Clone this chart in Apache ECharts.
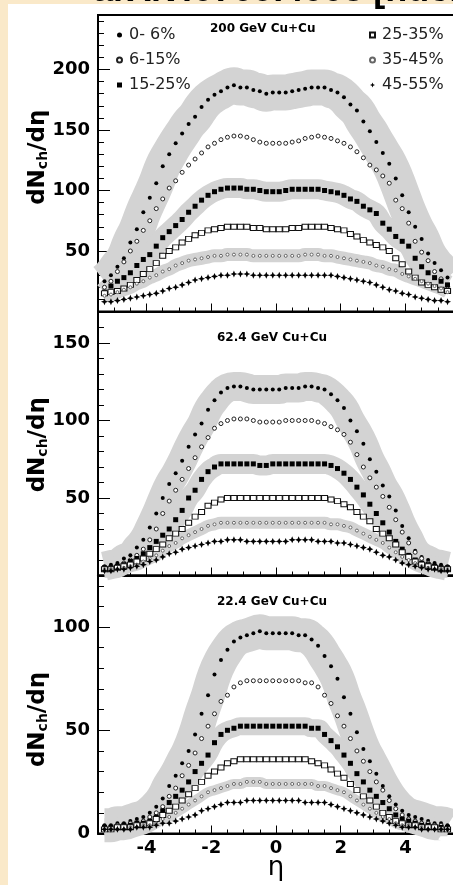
<!DOCTYPE html>
<html>
<head>
<meta charset="utf-8">
<script src="https://cdn.jsdelivr.net/npm/echarts@6/dist/echarts.min.js"></script>
<style>
  html, body { margin: 0; padding: 0; background: #ffffff; }
  #chart { width: 453px; height: 885px; }
</style>
</head>
<body>
<div id="chart"></div>
<script>
// Pseudorapidity bin centres shared by every measurement
const ETA = [-5.3, -5.1, -4.9, -4.7, -4.5, -4.3, -4.1, -3.9, -3.7, -3.5, -3.3, -3.1, -2.9, -2.7,
  -2.5, -2.3, -2.1, -1.9, -1.7, -1.5, -1.3, -1.1, -0.9, -0.7, -0.5, -0.3, -0.1,
  0.1, 0.3, 0.5, 0.7, 0.9, 1.1, 1.3, 1.5, 1.7, 1.9, 2.1, 2.3, 2.5, 2.7, 2.9, 3.1, 3.3,
  3.5, 3.7, 3.9, 4.1, 4.3, 4.5, 4.7, 4.9, 5.1, 5.3];

const CENTRALITY = ['0- 6%', '6-15%', '15-25%', '25-35%', '35-45%', '45-55%'];
const PANEL_TITLES = ['200 GeV Cu+Cu', '62.4 GeV Cu+Cu', '22.4 GeV Cu+Cu'];

// dNch/deta, 200 GeV Cu+Cu
const CU200_0_6 = [25, 30, 37, 44, 57, 68, 82, 94, 106, 120, 130, 139, 147, 155, 161, 169, 175, 179, 182, 185, 187, 185, 185, 183, 182, 180, 181,
  181, 181, 182, 183, 184, 185, 185, 185, 183, 181, 177, 171, 166, 157, 149, 140, 131, 122, 110, 96, 82, 70, 60, 48, 40, 34, 28];
const CU200_6_15 = [20, 25, 33, 41, 50, 58, 67, 75, 85, 93, 102, 108, 115, 121, 126, 131, 136, 139, 142, 144, 145, 145, 144, 142, 140, 139, 139,
  139, 139, 140, 141, 143, 144, 145, 144, 143, 141, 139, 136, 132, 127, 121, 117, 112, 106, 92, 85, 73, 58, 49, 42, 33, 27, 21];
const CU200_15_25 = [16, 21, 25, 28, 32, 38, 43, 47, 54, 61, 66, 71, 76, 82, 87, 92, 96, 99, 101, 102, 102, 102, 101, 101, 100, 99, 99,
  99, 100, 101, 101, 101, 101, 101, 100, 99, 98, 96, 93, 91, 87, 84, 81, 73, 68, 62, 58, 54, 44, 37, 32, 28, 25, 22];
const CU200_25_35 = [15, 16, 17, 19, 22, 26, 31, 35, 40, 46, 50, 53, 57, 60, 63, 65, 67, 68, 69, 70, 70, 70, 70, 69, 69, 68, 68,
  68, 68, 69, 69, 70, 70, 70, 70, 69, 68, 67, 64, 62, 59, 57, 55, 53, 50, 44, 39, 33, 28, 24, 22, 20, 18, 17];
const CU200_35_45 = [13, 14, 16, 18, 20, 23, 25, 28, 30, 33, 35, 38, 40, 42, 43, 44, 45, 46, 46, 47, 47, 47, 47, 46, 46, 46, 46,
  46, 46, 46, 46, 47, 47, 47, 46, 46, 45, 44, 43, 42, 41, 40, 38, 37, 35, 34, 31, 29, 27, 25, 23, 21, 19, 16];
const CU200_45_55 = [8, 8, 9, 10, 11, 12, 13, 14, 15, 17, 19, 20, 22, 24, 26, 27, 28, 29, 30, 30, 31, 31, 31, 30, 30, 30, 30,
  30, 30, 30, 30, 30, 30, 30, 30, 30, 29, 28, 27, 26, 25, 24, 22, 20, 18, 17, 15, 14, 12, 11, 10, 9, 9, 8];

// dNch/deta, 62.4 GeV Cu+Cu
const CU62_0_6 = [6, 7, 8, 11, 13, 18, 23, 31, 40, 50, 59, 66, 74, 83, 91, 98, 107, 113, 118, 121, 122, 122, 121, 120, 120, 120, 120,
  120, 121, 121, 121, 122, 122, 121, 120, 117, 113, 108, 100, 93, 85, 75, 67, 58, 51, 42, 32, 24, 16, 12, 10, 8, 7, 6];
const CU62_6_15 = [5, 5, 6, 8, 10, 13, 17, 23, 30, 40, 48, 55, 62, 69, 76, 83, 89, 95, 98, 100, 101, 101, 101, 100, 99, 99, 99,
  99, 100, 100, 100, 100, 100, 99, 98, 96, 94, 91, 86, 78, 70, 63, 57, 51, 44, 36, 28, 21, 15, 11, 8, 6, 5, 5];
const CU62_15_25 = [5, 5, 6, 7, 9, 11, 14, 18, 22, 26, 30, 36, 42, 50, 55, 62, 67, 70, 72, 72, 72, 72, 72, 72, 71, 71, 72,
  72, 72, 72, 72, 72, 72, 72, 72, 71, 69, 66, 62, 57, 52, 46, 40, 34, 28, 22, 17, 13, 10, 8, 7, 6, 5, 5];
const CU62_25_35 = [4, 4, 5, 6, 7, 9, 11, 14, 17, 20, 24, 27, 30, 34, 38, 41, 45, 47, 49, 50, 50, 50, 50, 50, 50, 50, 50,
  50, 50, 50, 50, 50, 50, 50, 50, 49, 48, 46, 44, 41, 38, 35, 30, 27, 24, 20, 15, 12, 9, 7, 6, 5, 4, 4];
const CU62_35_45 = [4, 4, 4, 5, 6, 7, 9, 11, 13, 16, 19, 21, 24, 26, 28, 30, 32, 33, 34, 34, 34, 34, 34, 34, 34, 34, 34,
  34, 34, 34, 34, 34, 34, 34, 34, 33, 33, 32, 31, 29, 27, 25, 23, 21, 18, 15, 12, 10, 8, 6, 5, 4, 4, 4];
const CU62_45_55 = [3, 3, 4, 4, 5, 6, 7, 9, 10, 12, 14, 15, 17, 18, 19, 20, 21, 22, 22, 23, 23, 23, 22, 22, 22, 22, 22,
  22, 22, 23, 23, 23, 23, 22, 22, 22, 21, 21, 20, 19, 18, 17, 15, 13, 12, 10, 8, 7, 6, 5, 4, 4, 3, 3];

// dNch/deta, 22.4 GeV Cu+Cu
const CU22_0_6 = [4, 4, 5, 5, 6, 7, 8, 10, 13, 17, 23, 28, 34, 40, 48, 58, 67, 77, 84, 89, 93, 95, 96, 97, 98, 97, 97,
  97, 97, 97, 96, 96, 94, 91, 86, 81, 75, 66, 58, 49, 41, 35, 29, 23, 18, 14, 11, 9, 8, 7, 6, 5, 5, 4];
const CU22_6_15 = [3, 3, 4, 4, 5, 5, 6, 8, 10, 13, 18, 22, 28, 33, 39, 46, 52, 58, 64, 67, 71, 73, 74, 74, 74, 74, 74,
  74, 74, 74, 74, 73, 73, 71, 67, 63, 57, 52, 46, 40, 35, 30, 25, 21, 16, 12, 9, 7, 6, 5, 5, 4, 4, 3];
const CU22_15_25 = [3, 3, 3, 4, 4, 5, 5, 6, 8, 11, 15, 18, 21, 25, 30, 34, 38, 44, 48, 50, 51, 52, 52, 52, 52, 52, 52,
  52, 52, 52, 52, 52, 51, 51, 48, 45, 42, 38, 34, 29, 25, 21, 18, 15, 12, 9, 7, 6, 5, 4, 4, 3, 3, 3];
const CU22_25_35 = [2, 2, 3, 3, 3, 4, 4, 5, 7, 9, 11, 13, 16, 19, 22, 25, 28, 30, 32, 34, 35, 36, 36, 36, 36, 36, 36,
  36, 36, 36, 36, 36, 35, 34, 33, 31, 29, 27, 24, 21, 18, 16, 13, 10, 8, 6, 5, 4, 4, 3, 3, 3, 2, 2];
const CU22_35_45 = [2, 2, 2, 2, 3, 3, 4, 4, 5, 7, 8, 10, 12, 14, 16, 18, 20, 21, 22, 23, 24, 24, 25, 25, 25, 24, 24,
  24, 24, 24, 24, 24, 24, 23, 23, 22, 21, 20, 18, 16, 14, 12, 10, 8, 7, 5, 4, 4, 3, 3, 2, 2, 2, 2];
const CU22_45_55 = [2, 2, 2, 2, 2, 3, 3, 3, 4, 5, 5, 6, 7, 8, 9, 11, 12, 13, 14, 15, 15, 15, 16, 16, 16, 16, 16,
  16, 16, 16, 16, 15, 15, 15, 15, 14, 13, 12, 11, 10, 9, 8, 7, 6, 5, 4, 3, 3, 3, 2, 2, 2, 2, 2];

// Axis ticks and labels
const X_LABELS = [-4, -2, 0, 2, 4];
const X_MINOR_TICKS = [-5, -4.5, -4, -3.5, -3, -2.5, -2, -1.5, -1, -0.5, 0, 0.5, 1, 1.5, 2, 2.5, 3, 3.5, 4, 4.5, 5];
const Y_MAX = [245, 170, 125];
const Y_LABELS = [[50, 100, 150, 200], [50, 100, 150], [0, 50, 100]];
const Y_MINOR_TICKS = [
  [10, 20, 30, 40, 50, 60, 70, 80, 90, 100, 110, 120, 130, 140, 150, 160, 170, 180, 190, 200, 210, 220, 230, 240],
  [10, 20, 30, 40, 50, 60, 70, 80, 90, 100, 110, 120, 130, 140, 150, 160],
  [10, 20, 30, 40, 50, 60, 70, 80, 90, 100, 110, 120]
];

const PANELS = [
  [CU200_0_6, CU200_6_15, CU200_15_25, CU200_25_35, CU200_35_45, CU200_45_55],
  [CU62_0_6, CU62_6_15, CU62_15_25, CU62_25_35, CU62_35_45, CU62_45_55],
  [CU22_0_6, CU22_6_15, CU22_15_25, CU22_25_35, CU22_35_45, CU22_45_55]
];

// ---- presentation ----
const GRID_BOXES = [
  { top: 15, height: 296.5 },
  { top: 312, height: 263.5 },
  { top: 575.5, height: 258 }
];
// horizontal padding [left, right] of the rotated y title, shifting it along each panel
const Y_TITLE_SHIFT = [[12, 0], [0, 2], [0, 30]];
const BAND_SERIES = [0, 2, 4];            // centralities drawn with a systematic band
const BAND_WIDTHS = [[36, 20, 13], [29, 20, 12], [34, 18, 10]];
const STAR = 'path://M3,0L3.9,2.1L6,3L3.9,3.9L3,6L2.1,3.9L0,3L2.1,2.1Z';
const MARKERS = [
  { symbol: 'circle', size: 4, fill: '#000', stroke: '#000', bw: 0 },
  { symbol: 'circle', size: 4, fill: '#fff', stroke: '#222', bw: 1 },
  { symbol: 'rect', size: 5, fill: '#000', stroke: '#000', bw: 0 },
  { symbol: 'rect', size: [6, 5], fill: '#fff', stroke: '#111', bw: 1 },
  { symbol: 'circle', size: 3, fill: '#fff', stroke: '#666', bw: 1 },
  { symbol: STAR, size: 7, fill: '#000', stroke: '#000', bw: 0 }
];
const NUM_FONT = { fontFamily: 'DejaVu Sans', fontWeight: 'bold', fontSize: 18, color: '#000' };

function pairs(values) {
  return ETA.map((e, i) => [e, values[i]]);
}

const grids = [], xAxes = [], yAxes = [], series = [], titles = [];

GRID_BOXES.forEach((box, p) => {
  grids.push({
    left: 98, width: 356, top: box.top, height: box.height,
    outerBoundsMode: 'none', containLabel: false,
    show: true, borderColor: '#000', borderWidth: 2, backgroundColor: 'transparent'
  });
  const last = p === GRID_BOXES.length - 1;
  // main x axis: long ticks, labels on the lowest panel
  xAxes.push({
    gridIndex: p, type: 'value', position: 'bottom', min: -5.5, max: 5.5,
    axisLine: { show: true, onZero: false, lineStyle: { color: '#000', width: 2 } },
    axisTick: { show: true, inside: true, length: 8, customValues: X_LABELS, lineStyle: { color: '#000', width: 1 } },
    axisLabel: { show: last, customValues: X_LABELS, margin: 6, ...NUM_FONT },
    splitLine: { show: false },
    name: last ? 'η' : '', nameLocation: 'middle', nameGap: 22, nameMoveOverlap: false,
    nameTextStyle: { fontFamily: 'DejaVu Sans', fontSize: 26, color: '#000' }
  });
  // short x ticks
  xAxes.push({
    gridIndex: p, type: 'value', position: 'bottom', min: -5.5, max: 5.5,
    axisLine: { show: false, onZero: false },
    axisTick: { show: true, inside: true, length: 4, customValues: X_MINOR_TICKS, lineStyle: { color: '#000', width: 1 } },
    axisLabel: { show: false }, splitLine: { show: false }
  });
  yAxes.push({
    gridIndex: p, type: 'value', position: 'left', min: 0, max: Y_MAX[p],
    axisLine: { show: true, onZero: false, lineStyle: { color: '#000', width: 2 } },
    axisTick: { show: true, inside: true, length: 12, customValues: Y_LABELS[p], lineStyle: { color: '#000', width: 1 } },
    axisLabel: { show: true, customValues: Y_LABELS[p], margin: 8, ...NUM_FONT },
    splitLine: { show: false },
    name: '{m|dN}{s|ch}{m|/dη}', nameLocation: 'middle', nameRotate: 90, nameGap: 48,
    nameMoveOverlap: false,
    nameTextStyle: {
      padding: [0, Y_TITLE_SHIFT[p][1], 0, Y_TITLE_SHIFT[p][0]],
      rich: {
        m: { fontFamily: 'DejaVu Sans', fontWeight: 'bold', fontSize: 23, lineHeight: 24, color: '#000' },
        s: { fontFamily: 'DejaVu Sans', fontWeight: 'bold', fontSize: 14, lineHeight: 15, color: '#000',
             verticalAlign: 'bottom', padding: [24, 0, 0, 0] }
      }
    }
  });
  yAxes.push({
    gridIndex: p, type: 'value', position: 'left', min: 0, max: Y_MAX[p],
    axisLine: { show: false, onZero: false },
    axisTick: { show: true, inside: true, length: 6, customValues: Y_MINOR_TICKS[p], lineStyle: { color: '#000', width: 1 } },
    axisLabel: { show: false }, splitLine: { show: false }
  });

  const xMain = p * 2, yMain = p * 2;
  BAND_SERIES.forEach((c, k) => {
    series.push({
      type: 'line', xAxisIndex: xMain, yAxisIndex: yMain, data: pairs(PANELS[p][c]),
      showSymbol: false, symbol: 'none', smooth: 0.5, silent: true, z: 1,
      lineStyle: { color: '#d3d3d3', width: BAND_WIDTHS[p][k], cap: 'butt', join: 'round' },
      legendHoverLink: false, tooltip: { show: false }
    });
  });
  PANELS[p].forEach((vals, c) => {
    const m = MARKERS[c];
    series.push({
      name: CENTRALITY[c], type: 'scatter', xAxisIndex: xMain, yAxisIndex: yMain,
      data: pairs(vals), symbol: m.symbol, symbolSize: m.size, z: 3,
      itemStyle: { color: m.fill, borderColor: m.stroke, borderWidth: m.bw, opacity: 1 }
    });
  });
});

titles.push(
  { text: PANEL_TITLES[0], left: 210, top: 23 },
  { text: PANEL_TITLES[1], left: 217, top: 332 },
  { text: PANEL_TITLES[2], left: 217, top: 596 }
);
titles.forEach(t => {
  t.padding = 0;
  t.textStyle = { fontFamily: 'DejaVu Sans', fontWeight: 'bold', fontSize: 12, color: '#000' };
});

const legendBase = {
  orient: 'vertical', itemWidth: 5, itemHeight: 5, itemGap: 9, padding: 0,
  textStyle: { fontFamily: 'DejaVu Sans', fontSize: 16, lineHeight: 16, color: '#222', padding: [0, 0, 0, 2] },
  selectedMode: false
};

const chart = echarts.init(document.getElementById('chart'), null, { renderer: 'canvas' });
chart.setOption({
  animation: false,
  backgroundColor: '#ffffff',
  title: titles,
  legend: [
    { ...legendBase, left: 116, top: 27, data: CENTRALITY.slice(0, 3) },
    { ...legendBase, left: 369, top: 27, data: CENTRALITY.slice(3) }
  ],
  grid: grids,
  xAxis: xAxes,
  yAxis: yAxes,
  series: series,
  graphic: [
    { type: 'rect', shape: { x: 0, y: 0, width: 8, height: 885 }, style: { fill: '#fae9c9' }, z: 100 },
    { type: 'rect', shape: { x: 0, y: 0, width: 453, height: 4 }, style: { fill: '#fae9c9' }, z: 100 },
    { type: 'text', x: 93, y: -27, z: 101,
      style: { text: 'arXiv:0709.4008 [nucl-ex]', fontFamily: 'Liberation Sans', fontWeight: 'bold',
               fontSize: 36, fill: '#000', verticalAlign: 'top' } }
  ]
});
</script>
</body>
</html>
